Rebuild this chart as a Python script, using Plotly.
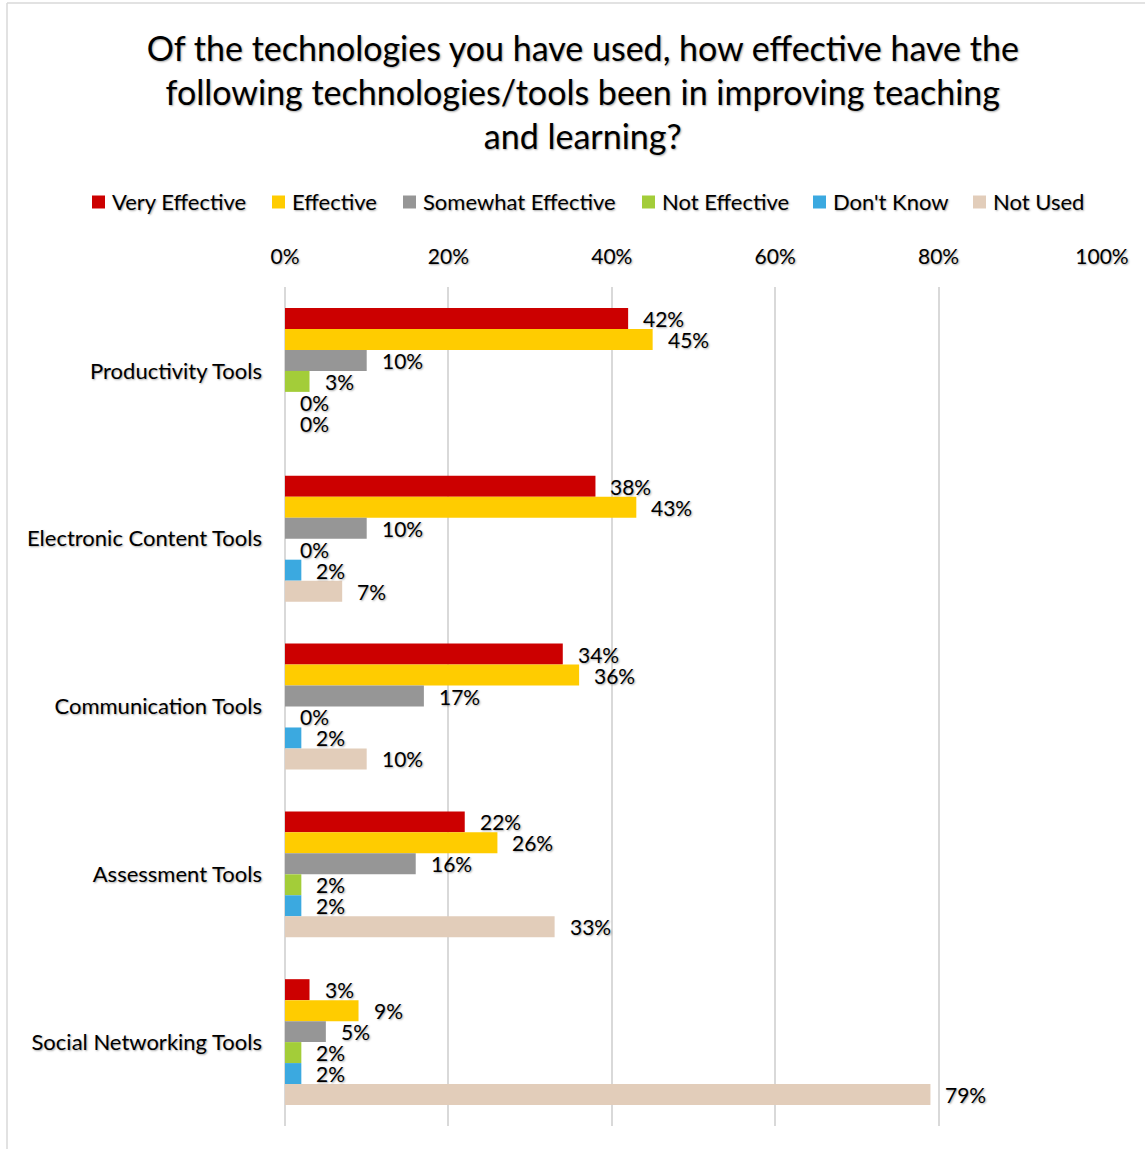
import plotly.graph_objects as go

# Survey results: effectiveness of technology tools (% of respondents)
categories = [
    "Productivity Tools",
    "Electronic Content Tools",
    "Communication Tools",
    "Assessment Tools",
    "Social Networking Tools",
]
very_effective = [42, 38, 34, 22, 3]
effective = [45, 43, 36, 26, 9]
somewhat_effective = [10, 10, 17, 16, 5]
not_effective = [3, 0, 0, 2, 2]
dont_know = [0, 2, 2, 2, 2]
not_used = [0, 7, 10, 33, 79]

series_names = ["Very Effective", "Effective", "Somewhat Effective",
                "Not Effective", "Don't Know", "Not Used"]
series_values = [very_effective, effective, somewhat_effective,
                 not_effective, dont_know, not_used]
series_colors = ["#CC0000", "#FFCC00", "#969696", "#A3CD39", "#3BA9E0", "#E2CDBA"]

tick_values = [0, 20, 40, 60, 80, 100]
tick_labels = ["0%", "20%", "40%", "60%", "80%", "100%"]

FONT = "Lato, Carlito, 'Open Sans', sans-serif"
SHADOW = "1px 1px 2px rgba(0,0,0,0.35)"
BARGAP = 0.25

W, H = 1145, 1149
ML, MR, MT, MB = 285, 43, 287, 23
PW, PH = W - ML - MR, H - MT - MB


def px_x(p):
    """pixel column -> paper x"""
    return (p - ML) / PW


def px_y(p):
    """pixel row -> paper y"""
    return (H - MB - p) / PH


fig = go.Figure()
for name, vals, color in zip(series_names, series_values, series_colors):
    fig.add_trace(go.Bar(
        name=name,
        y=categories,
        x=vals,
        orientation="h",
        marker=dict(color=color, line=dict(width=0)),
        hoverinfo="skip",
        showlegend=False,
    ))

# value labels just past the end of each bar
n = len(series_names)
slot = (1 - BARGAP) / n
annotations = []
for j, vals in enumerate(series_values):
    for i, v in enumerate(vals):
        annotations.append(dict(
            x=v, y=i + (j - (n - 1) / 2) * slot,
            xref="x", yref="y",
            text=f"{v}%",
            showarrow=False,
            xanchor="left", yanchor="middle",
            xshift=13,
            font=dict(family=FONT, size=21, color="#000000", shadow=SHADOW),
        ))

# single-row legend above the axis
legend_left = [92, 272, 403, 642, 813, 973]
legend_row = 202
swatch = 13
shapes = []
for name, color, left in zip(series_names, series_colors, legend_left):
    shapes.append(dict(
        type="rect", xref="paper", yref="paper",
        x0=px_x(left), x1=px_x(left + swatch),
        y0=px_y(legend_row + swatch / 2), y1=px_y(legend_row - swatch / 2),
        fillcolor=color, line=dict(width=0),
    ))
    annotations.append(dict(
        x=px_x(left + swatch + 5), y=px_y(legend_row),
        xref="paper", yref="paper",
        text=name, showarrow=False,
        xanchor="left", yanchor="middle",
        font=dict(family=FONT, size=22, color="#000000", shadow=SHADOW),
    ))

# outer chart frame
shapes += [
    dict(type="line", xref="paper", yref="paper",
         x0=px_x(7), x1=px_x(7), y0=px_y(3), y1=px_y(H),
         line=dict(color="#D9D9D9", width=1.5)),
    dict(type="line", xref="paper", yref="paper",
         x0=px_x(7), x1=px_x(W), y0=px_y(3), y1=px_y(3),
         line=dict(color="#D9D9D9", width=1.5)),
]

fig.update_layout(
    width=W, height=H,
    margin=dict(l=ML, r=MR, t=MT, b=MB, autoexpand=False),
    paper_bgcolor="white",
    plot_bgcolor="white",
    barmode="group",
    bargap=BARGAP,
    bargroupgap=0,
    showlegend=False,
    font=dict(family=FONT, color="#000000"),
    title=dict(
        text="Of the technologies you have used, how effective have the<br>"
             "following technologies/tools been in improving teaching<br>"
             "and learning?",
        x=0.509, xanchor="center",
        y=1 - 61 / H, yanchor="middle", yref="container",
        font=dict(family=FONT, size=34, color="#000000", shadow=SHADOW),
    ),
    xaxis=dict(
        side="top",
        range=[0, 100],
        tickmode="array",
        tickvals=tick_values,
        ticktext=tick_labels,
        showgrid=True,
        gridcolor="#D9D9D9",
        gridwidth=1.5,
        zeroline=True,
        zerolinecolor="#D9D9D9",
        zerolinewidth=1.5,
        showline=False,
        ticks="",
        ticklabelstandoff=18,
        automargin=False,
        tickfont=dict(family=FONT, size=21, color="#000000", shadow=SHADOW),
        fixedrange=True,
    ),
    yaxis=dict(
        autorange="reversed",
        showgrid=False,
        showline=False,
        ticks="",
        ticklabelstandoff=22,
        automargin=False,
        tickfont=dict(family=FONT, size=22, color="#000000", shadow=SHADOW),
        fixedrange=True,
    ),
    annotations=annotations,
    shapes=shapes,
)

fig.write_html("out.html")
